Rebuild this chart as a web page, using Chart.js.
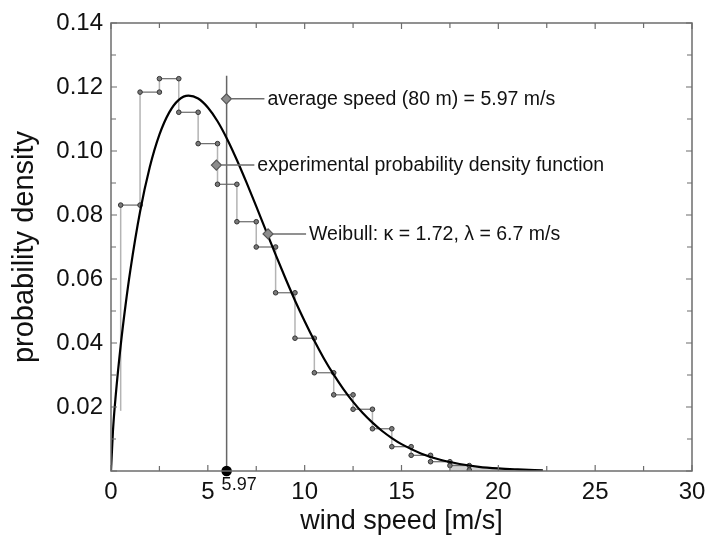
<!DOCTYPE html>
<html>
<head>
<meta charset="utf-8">
<script src="https://cdn.jsdelivr.net/npm/chart.js@4.4.1/dist/chart.umd.min.js"></script>
<style>html,body{margin:0;padding:0;background:#fff}</style>
</head>
<body>
<canvas id="chart" width="713" height="541"></canvas>
<script>
// ---------- Data ----------
// experimental pdf: bin edges [m/s] and bin values
const binEdges = [0.5, 1.5, 2.5, 3.5, 4.5, 5.5, 6.5, 7.5, 8.5, 9.5, 10.5, 11.5, 12.5, 13.5, 14.5, 15.5, 16.5, 17.5, 18.5];
const binValues = [0.0831, 0.1184, 0.1226, 0.1121, 0.1023, 0.0896, 0.0779, 0.0700, 0.0557, 0.0415,
                   0.0307, 0.0238, 0.0193, 0.0132, 0.0076, 0.0049, 0.0029, 0.0017];
const stepStart = 0.0188;
const stepEnd = 0.0003;

// Weibull curve
const curveX = [0, 0.1, 0.25, 0.5, 0.75, 1, 1.5, 2, 2.5, 3, 3.5, 4, 4.5, 5, 5.5, 6, 6.5, 7, 7.5, 8, 8.5, 9,
                9.5, 10, 10.5, 11, 11.5, 12, 12.5, 13, 13.5, 14, 14.5, 15, 16, 17, 18, 19, 20, 21, 22.3];
const curveY = [0, 0.0124, 0.0240, 0.0392, 0.0518, 0.0628, 0.0810, 0.0949, 0.1051, 0.1120, 0.1160, 0.1173,
                0.1164, 0.1136, 0.1093, 0.1037, 0.0972, 0.0901, 0.0827, 0.0751, 0.0676, 0.0603, 0.0533,
                0.0468, 0.0407, 0.0351, 0.0301, 0.0256, 0.0216, 0.0181, 0.0151, 0.0125, 0.0103, 0.0084,
                0.0055, 0.0035, 0.0022, 0.0013, 0.0008, 0.0005, 0.0002];
const shadeFrom = 17.5;

const avgSpeed = 5.97;
const avgLineTop = 0.1235;

const noteX = [5.96, 5.44, 8.11];
const noteY = [0.1163, 0.0956, 0.0741];
const noteText = [
  "average speed (80 m) = 5.97 m/s",
  "experimental probability density function",
  "Weibull: \u03BA = 1.72, \u03BB = 6.7 m/s"
];

const xLabels = [0, 5, 10, 15, 20, 25, 30];
const yLabels = ["0.02", "0.04", "0.06", "0.08", "0.10", "0.12", "0.14"];

// ---------- Build points ----------
const stepPts = [{ x: binEdges[0], y: stepStart }];
binValues.forEach((v, i) => {
  stepPts.push({ x: binEdges[i], y: v });
  stepPts.push({ x: binEdges[i + 1], y: v });
});
stepPts.push({ x: binEdges[binEdges.length - 1], y: stepEnd });

const curvePts = curveX.map((x, i) => ({ x, y: curveY[i] }));
const shadePts = curvePts.filter(p => p.x >= shadeFrom);
shadePts.unshift({ x: shadeFrom, y: 0.0029 });
const notePts = noteX.map((x, i) => ({ x, y: noteY[i] }));

const FONT = "'Liberation Sans', Arial, Helvetica, sans-serif";

// frame, inward ticks, notes
const decor = {
  id: 'decor',
  afterDraw(chart) {
    const ctx = chart.ctx;
    const a = chart.chartArea;
    const xs = chart.scales.x, ys = chart.scales.y;
    ctx.save();
    ctx.strokeStyle = '#6d6d6d';
    ctx.lineWidth = 1.5;
    ctx.strokeRect(a.left, a.top, a.right - a.left, a.bottom - a.top);
    ctx.lineWidth = 1.2;
    ctx.beginPath();
    xs.ticks.forEach(t => {
      const px = xs.getPixelForValue(t.value);
      const len = (t.value % 5 === 0) ? 6 : 5;
      ctx.moveTo(px, a.bottom); ctx.lineTo(px, a.bottom - len);
      ctx.moveTo(px, a.top); ctx.lineTo(px, a.top + len);
    });
    ys.ticks.forEach(t => {
      const py = ys.getPixelForValue(t.value);
      const len = (Math.round(t.value * 100) % 2 === 0) ? 6 : 5;
      ctx.moveTo(a.left, py); ctx.lineTo(a.left + len, py);
      ctx.moveTo(a.right, py); ctx.lineTo(a.right - len, py);
    });
    ctx.stroke();

    // average speed label below axis
    ctx.fillStyle = '#111';
    ctx.font = '18px ' + FONT;
    ctx.textAlign = 'left';
    ctx.textBaseline = 'top';
    ctx.fillText(String(avgSpeed), xs.getPixelForValue(avgSpeed) - 5, a.bottom + 5);

    // notes with leader lines
    const meta = chart.getDatasetMeta(4);
    ctx.font = '19.5px ' + FONT;
    ctx.textBaseline = 'middle';
    meta.data.forEach((pt, i) => {
      ctx.strokeStyle = '#6d6d6d';
      ctx.lineWidth = 1.5;
      ctx.beginPath();
      ctx.moveTo(pt.x + 5, pt.y);
      ctx.lineTo(pt.x + 38, pt.y);
      ctx.stroke();
      ctx.fillText(noteText[i], pt.x + 41, pt.y + 1);
    });
    ctx.restore();
  }
};

new Chart(document.getElementById('chart'), {
  type: 'line',
  data: {
    datasets: [
      {
        label: 'shade',
        data: shadePts,
        borderWidth: 0,
        pointRadius: 0,
        fill: 'origin',
        backgroundColor: 'rgba(190,190,190,0.7)',
        tension: 0.3,
        order: 10
      },
      {
        label: 'experimental',
        data: stepPts,
        borderWidth: 1.2,
        borderColor: '#666',
        segment: {
          borderColor: c => c.p0.parsed.x === c.p1.parsed.x ? '#b4b4b4' : '#6a6a6a',
          borderWidth: c => c.p0.parsed.x === c.p1.parsed.x ? 1.5 : 1.2
        },
        pointRadius: c => c.dataIndex === 0 ? 0 : 2.3,
        pointBackgroundColor: '#7a7a7a',
        pointBorderColor: '#333',
        pointBorderWidth: 1,
        tension: 0,
        order: 3
      },
      {
        label: 'Weibull',
        data: curvePts,
        borderColor: '#000',
        borderWidth: 2.2,
        pointRadius: 0,
        cubicInterpolationMode: 'monotone',
        order: 1
      },
      {
        label: 'average',
        data: [{ x: avgSpeed, y: 0 }, { x: avgSpeed, y: avgLineTop }],
        borderColor: '#666',
        borderWidth: 1.5,
        pointRadius: c => c.dataIndex === 0 ? 4.5 : 0,
        pointBackgroundColor: '#000',
        pointBorderColor: '#000',
        clip: false,
        order: 2
      },
      {
        label: 'notes',
        data: notePts,
        showLine: false,
        pointStyle: 'rectRot',
        pointRadius: 5,
        pointBackgroundColor: '#8c8c8c',
        pointBorderColor: '#555',
        pointBorderWidth: 1.2,
        order: 0
      }
    ]
  },
  options: {
    responsive: false,
    animation: false,
    devicePixelRatio: 1,
    layout: { padding: { top: 23, right: 21, left: 0, bottom: 0 } },
    plugins: { legend: { display: false }, tooltip: { enabled: false } },
    scales: {
      x: {
        type: 'linear',
        min: 0, max: 30,
        grid: { display: false, drawTicks: false },
        border: { display: false },
        ticks: {
          stepSize: 2.5, autoSkip: false, maxRotation: 0, padding: 7,
          color: '#111', font: { family: FONT, size: 24 },
          callback: v => xLabels.includes(v) ? String(v) : ''
        },
        title: {
          display: true, text: 'wind speed [m/s]', color: '#111',
          font: { family: FONT, size: 27 }, padding: { top: 0, bottom: 3 }
        },
        afterFit: s => { s.height = 70; }
      },
      y: {
        type: 'linear',
        min: 0, max: 0.14,
        grid: { display: false, drawTicks: false },
        border: { display: false },
        ticks: {
          stepSize: 0.01, autoSkip: false, padding: 8,
          color: '#111', font: { family: FONT, size: 24 },
          callback: v => {
            const k = Math.round(v * 100);
            return (k > 0 && k % 2 === 0) ? yLabels[k / 2 - 1] : '';
          }
        },
        title: {
          display: true, text: 'probability density', color: '#111',
          font: { family: FONT, size: 29 }, padding: { top: 8, bottom: 0 }
        },
        afterFit: s => { s.width = 111; }
      }
    }
  },
  plugins: [decor]
});
</script>
</body>
</html>
